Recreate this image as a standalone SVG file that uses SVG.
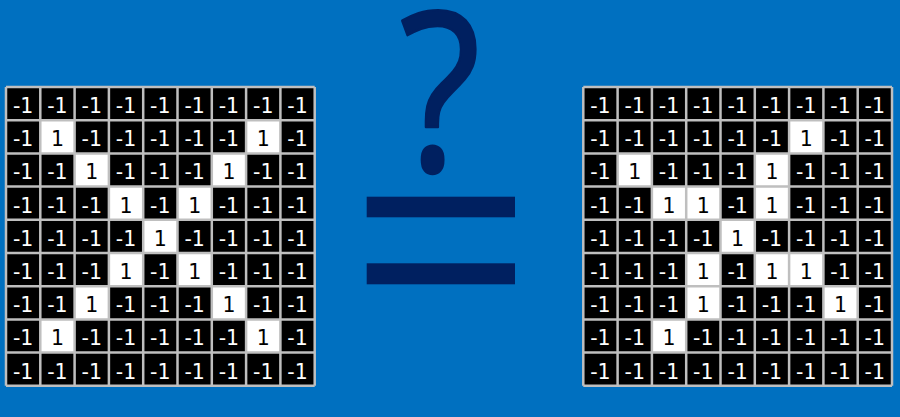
<svg xmlns="http://www.w3.org/2000/svg" width="900" height="417" viewBox="0 0 900 417">
<style>
.bg{fill:#0070C0}
.blk{fill:#000000}
.wht{fill:#FFFFFF}
.lines{fill:none;stroke:#BFBFBF;stroke-width:2.5}
.cells{font-family:"DejaVu Sans","Liberation Sans",sans-serif;font-size:20.5px;text-anchor:middle}
.n{fill:#FFFFFF}
.p{fill:#000000}
.dark{fill:#002060}
</style>
<defs>
<path id="gridlines" d="M0,0V298.8M34.3,0V298.8M68.6,0V298.8M102.9,0V298.8M137.2,0V298.8M171.5,0V298.8M205.8,0V298.8M240.1,0V298.8M274.4,0V298.8M308.7,0V298.8M0,0H308.7M0,33.2H308.7M0,66.4H308.7M0,99.6H308.7M0,132.8H308.7M0,166H308.7M0,199.2H308.7M0,232.4H308.7M0,265.6H308.7M0,298.8H308.7"/>
</defs>
<rect class="bg" x="0" y="0" width="900" height="417"/>

<g id="left-grid" transform="translate(6,87)">
<rect class="blk" x="0" y="0" width="308.7" height="298.8"/>
<rect class="wht" x="34.3" y="33.2" width="34.3" height="33.2"/>
<rect class="wht" x="240.1" y="33.2" width="34.3" height="33.2"/>
<rect class="wht" x="68.6" y="66.4" width="34.3" height="33.2"/>
<rect class="wht" x="205.8" y="66.4" width="34.3" height="33.2"/>
<rect class="wht" x="102.9" y="99.6" width="34.3" height="33.2"/>
<rect class="wht" x="171.5" y="99.6" width="34.3" height="33.2"/>
<rect class="wht" x="137.2" y="132.8" width="34.3" height="33.2"/>
<rect class="wht" x="102.9" y="166" width="34.3" height="33.2"/>
<rect class="wht" x="171.5" y="166" width="34.3" height="33.2"/>
<rect class="wht" x="68.6" y="199.2" width="34.3" height="33.2"/>
<rect class="wht" x="205.8" y="199.2" width="34.3" height="33.2"/>
<rect class="wht" x="34.3" y="232.4" width="34.3" height="33.2"/>
<rect class="wht" x="240.1" y="232.4" width="34.3" height="33.2"/>
<use href="#gridlines" class="lines"/>
<g class="cells">
<text y="26"><tspan class="n" x="17.15">-1</tspan><tspan class="n" x="51.45">-1</tspan><tspan class="n" x="85.75">-1</tspan><tspan class="n" x="120.05">-1</tspan><tspan class="n" x="154.35">-1</tspan><tspan class="n" x="188.65">-1</tspan><tspan class="n" x="222.95">-1</tspan><tspan class="n" x="257.25">-1</tspan><tspan class="n" x="291.55">-1</tspan></text>
<text y="59.2"><tspan class="n" x="17.15">-1</tspan><tspan class="p" x="51.45">1</tspan><tspan class="n" x="85.75">-1</tspan><tspan class="n" x="120.05">-1</tspan><tspan class="n" x="154.35">-1</tspan><tspan class="n" x="188.65">-1</tspan><tspan class="n" x="222.95">-1</tspan><tspan class="p" x="257.25">1</tspan><tspan class="n" x="291.55">-1</tspan></text>
<text y="92.4"><tspan class="n" x="17.15">-1</tspan><tspan class="n" x="51.45">-1</tspan><tspan class="p" x="85.75">1</tspan><tspan class="n" x="120.05">-1</tspan><tspan class="n" x="154.35">-1</tspan><tspan class="n" x="188.65">-1</tspan><tspan class="p" x="222.95">1</tspan><tspan class="n" x="257.25">-1</tspan><tspan class="n" x="291.55">-1</tspan></text>
<text y="125.6"><tspan class="n" x="17.15">-1</tspan><tspan class="n" x="51.45">-1</tspan><tspan class="n" x="85.75">-1</tspan><tspan class="p" x="120.05">1</tspan><tspan class="n" x="154.35">-1</tspan><tspan class="p" x="188.65">1</tspan><tspan class="n" x="222.95">-1</tspan><tspan class="n" x="257.25">-1</tspan><tspan class="n" x="291.55">-1</tspan></text>
<text y="158.8"><tspan class="n" x="17.15">-1</tspan><tspan class="n" x="51.45">-1</tspan><tspan class="n" x="85.75">-1</tspan><tspan class="n" x="120.05">-1</tspan><tspan class="p" x="154.35">1</tspan><tspan class="n" x="188.65">-1</tspan><tspan class="n" x="222.95">-1</tspan><tspan class="n" x="257.25">-1</tspan><tspan class="n" x="291.55">-1</tspan></text>
<text y="192"><tspan class="n" x="17.15">-1</tspan><tspan class="n" x="51.45">-1</tspan><tspan class="n" x="85.75">-1</tspan><tspan class="p" x="120.05">1</tspan><tspan class="n" x="154.35">-1</tspan><tspan class="p" x="188.65">1</tspan><tspan class="n" x="222.95">-1</tspan><tspan class="n" x="257.25">-1</tspan><tspan class="n" x="291.55">-1</tspan></text>
<text y="225.2"><tspan class="n" x="17.15">-1</tspan><tspan class="n" x="51.45">-1</tspan><tspan class="p" x="85.75">1</tspan><tspan class="n" x="120.05">-1</tspan><tspan class="n" x="154.35">-1</tspan><tspan class="n" x="188.65">-1</tspan><tspan class="p" x="222.95">1</tspan><tspan class="n" x="257.25">-1</tspan><tspan class="n" x="291.55">-1</tspan></text>
<text y="258.4"><tspan class="n" x="17.15">-1</tspan><tspan class="p" x="51.45">1</tspan><tspan class="n" x="85.75">-1</tspan><tspan class="n" x="120.05">-1</tspan><tspan class="n" x="154.35">-1</tspan><tspan class="n" x="188.65">-1</tspan><tspan class="n" x="222.95">-1</tspan><tspan class="p" x="257.25">1</tspan><tspan class="n" x="291.55">-1</tspan></text>
<text y="291.6"><tspan class="n" x="17.15">-1</tspan><tspan class="n" x="51.45">-1</tspan><tspan class="n" x="85.75">-1</tspan><tspan class="n" x="120.05">-1</tspan><tspan class="n" x="154.35">-1</tspan><tspan class="n" x="188.65">-1</tspan><tspan class="n" x="222.95">-1</tspan><tspan class="n" x="257.25">-1</tspan><tspan class="n" x="291.55">-1</tspan></text>
</g>
</g>

<g id="right-grid" transform="translate(583.3,87)">
<rect class="blk" x="0" y="0" width="308.7" height="298.8"/>
<rect class="wht" x="205.8" y="33.2" width="34.3" height="33.2"/>
<rect class="wht" x="34.3" y="66.4" width="34.3" height="33.2"/>
<rect class="wht" x="171.5" y="66.4" width="34.3" height="33.2"/>
<rect class="wht" x="68.6" y="99.6" width="34.3" height="33.2"/>
<rect class="wht" x="102.9" y="99.6" width="34.3" height="33.2"/>
<rect class="wht" x="171.5" y="99.6" width="34.3" height="33.2"/>
<rect class="wht" x="137.2" y="132.8" width="34.3" height="33.2"/>
<rect class="wht" x="102.9" y="166" width="34.3" height="33.2"/>
<rect class="wht" x="171.5" y="166" width="34.3" height="33.2"/>
<rect class="wht" x="205.8" y="166" width="34.3" height="33.2"/>
<rect class="wht" x="102.9" y="199.2" width="34.3" height="33.2"/>
<rect class="wht" x="240.1" y="199.2" width="34.3" height="33.2"/>
<rect class="wht" x="68.6" y="232.4" width="34.3" height="33.2"/>
<use href="#gridlines" class="lines"/>
<g class="cells">
<text y="26"><tspan class="n" x="17.15">-1</tspan><tspan class="n" x="51.45">-1</tspan><tspan class="n" x="85.75">-1</tspan><tspan class="n" x="120.05">-1</tspan><tspan class="n" x="154.35">-1</tspan><tspan class="n" x="188.65">-1</tspan><tspan class="n" x="222.95">-1</tspan><tspan class="n" x="257.25">-1</tspan><tspan class="n" x="291.55">-1</tspan></text>
<text y="59.2"><tspan class="n" x="17.15">-1</tspan><tspan class="n" x="51.45">-1</tspan><tspan class="n" x="85.75">-1</tspan><tspan class="n" x="120.05">-1</tspan><tspan class="n" x="154.35">-1</tspan><tspan class="n" x="188.65">-1</tspan><tspan class="p" x="222.95">1</tspan><tspan class="n" x="257.25">-1</tspan><tspan class="n" x="291.55">-1</tspan></text>
<text y="92.4"><tspan class="n" x="17.15">-1</tspan><tspan class="p" x="51.45">1</tspan><tspan class="n" x="85.75">-1</tspan><tspan class="n" x="120.05">-1</tspan><tspan class="n" x="154.35">-1</tspan><tspan class="p" x="188.65">1</tspan><tspan class="n" x="222.95">-1</tspan><tspan class="n" x="257.25">-1</tspan><tspan class="n" x="291.55">-1</tspan></text>
<text y="125.6"><tspan class="n" x="17.15">-1</tspan><tspan class="n" x="51.45">-1</tspan><tspan class="p" x="85.75">1</tspan><tspan class="p" x="120.05">1</tspan><tspan class="n" x="154.35">-1</tspan><tspan class="p" x="188.65">1</tspan><tspan class="n" x="222.95">-1</tspan><tspan class="n" x="257.25">-1</tspan><tspan class="n" x="291.55">-1</tspan></text>
<text y="158.8"><tspan class="n" x="17.15">-1</tspan><tspan class="n" x="51.45">-1</tspan><tspan class="n" x="85.75">-1</tspan><tspan class="n" x="120.05">-1</tspan><tspan class="p" x="154.35">1</tspan><tspan class="n" x="188.65">-1</tspan><tspan class="n" x="222.95">-1</tspan><tspan class="n" x="257.25">-1</tspan><tspan class="n" x="291.55">-1</tspan></text>
<text y="192"><tspan class="n" x="17.15">-1</tspan><tspan class="n" x="51.45">-1</tspan><tspan class="n" x="85.75">-1</tspan><tspan class="p" x="120.05">1</tspan><tspan class="n" x="154.35">-1</tspan><tspan class="p" x="188.65">1</tspan><tspan class="p" x="222.95">1</tspan><tspan class="n" x="257.25">-1</tspan><tspan class="n" x="291.55">-1</tspan></text>
<text y="225.2"><tspan class="n" x="17.15">-1</tspan><tspan class="n" x="51.45">-1</tspan><tspan class="n" x="85.75">-1</tspan><tspan class="p" x="120.05">1</tspan><tspan class="n" x="154.35">-1</tspan><tspan class="n" x="188.65">-1</tspan><tspan class="n" x="222.95">-1</tspan><tspan class="p" x="257.25">1</tspan><tspan class="n" x="291.55">-1</tspan></text>
<text y="258.4"><tspan class="n" x="17.15">-1</tspan><tspan class="n" x="51.45">-1</tspan><tspan class="p" x="85.75">1</tspan><tspan class="n" x="120.05">-1</tspan><tspan class="n" x="154.35">-1</tspan><tspan class="n" x="188.65">-1</tspan><tspan class="n" x="222.95">-1</tspan><tspan class="n" x="257.25">-1</tspan><tspan class="n" x="291.55">-1</tspan></text>
<text y="291.6"><tspan class="n" x="17.15">-1</tspan><tspan class="n" x="51.45">-1</tspan><tspan class="n" x="85.75">-1</tspan><tspan class="n" x="120.05">-1</tspan><tspan class="n" x="154.35">-1</tspan><tspan class="n" x="188.65">-1</tspan><tspan class="n" x="222.95">-1</tspan><tspan class="n" x="257.25">-1</tspan><tspan class="n" x="291.55">-1</tspan></text>
</g>
</g>

<g id="question" transform="translate(440,171) scale(0.85,1)">
<text class="dark" x="0" y="0" font-family="'Open Sans','Noto Sans',sans-serif" font-size="222" text-anchor="middle" stroke="#002060" stroke-width="2.5" stroke-linejoin="round">?</text>
</g>
<g id="equals">
<rect class="dark" x="366.7" y="196.7" width="148.3" height="20.6"/>
<rect class="dark" x="366.7" y="263.3" width="148.3" height="21"/>
</g>
</svg>
